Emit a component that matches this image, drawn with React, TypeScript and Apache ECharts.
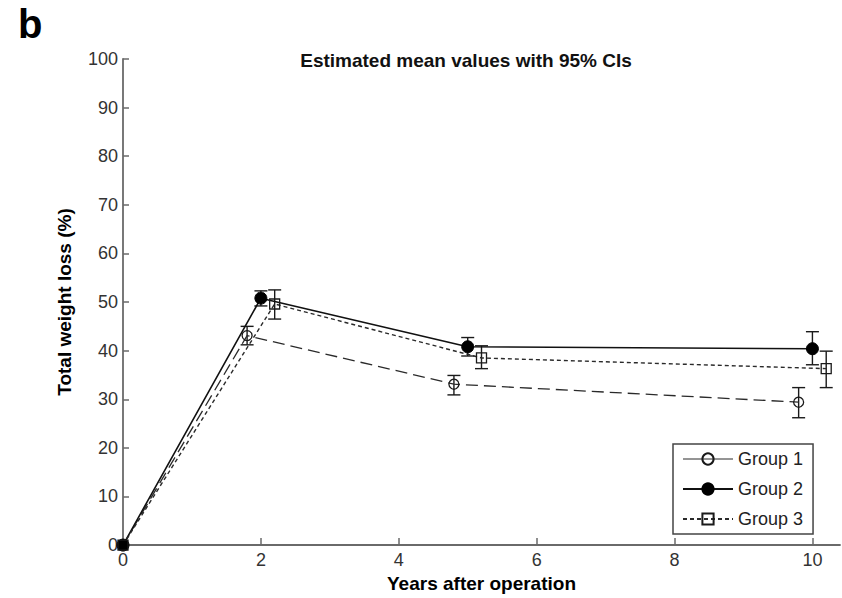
import React, { useEffect, useRef } from "react";
import * as echarts from "echarts";

const FONT = "'Liberation Sans', Arial, Helvetica, sans-serif";

// Tick values
const xTicks = [0, 2, 4, 6, 8, 10];

// Years after operation (slightly offset per group as in the reference)
const years1 = [0, 1.8, 4.8, 9.8];
const years2 = [0, 2, 5, 10];
const years3 = [0, 2.2, 5.2, 10.2];

// Estimated means (%)
const group1Mean = [0, 43.1, 33.1, 29.4];
const group2Mean = [0, 50.8, 40.8, 40.4];
const group3Mean = [0, 49.6, 38.5, 36.3];

// 95% CI bounds (%)
const group1Low = [0, 41.2, 30.9, 26.2];
const group1High = [0, 45.0, 34.9, 32.4];
const group2Low = [0, 49.2, 38.9, 37.1];
const group2High = [0, 52.3, 42.7, 43.9];
const group3Low = [0, 46.5, 36.3, 32.4];
const group3High = [0, 52.5, 41.0, 39.9];

const groupNames = ["Group 1", "Group 2", "Group 3"];

function pairs(xs: number[], ys: number[]) {
  return xs.map((x, i) => [x, ys[i]]);
}
function triples(xs: number[], lo: number[], hi: number[]) {
  return xs.map((x, i) => [x, lo[i], hi[i]]);
}

function errorRender(params: any, api: any) {
  const x = api.value(0);
  const lo = api.value(1);
  const hi = api.value(2);
  if (hi === lo) return null;
  const p1 = api.coord([x, lo]);
  const p2 = api.coord([x, hi]);
  const w = 6.5;
  const style = { stroke: "#1a1a1a", lineWidth: 1.4 };
  return {
    type: "group",
    children: [
      { type: "line", shape: { x1: p1[0], y1: p1[1], x2: p2[0], y2: p2[1] }, style },
      { type: "line", shape: { x1: p1[0] - w, y1: p1[1], x2: p1[0] + w, y2: p1[1] }, style },
      { type: "line", shape: { x1: p2[0] - w, y1: p2[1], x2: p2[0] + w, y2: p2[1] }, style },
    ],
  };
}

export default function App() {
  const ref = useRef<HTMLDivElement>(null);

  useEffect(() => {
    if (!ref.current) return;
    const chart = echarts.init(ref.current, null, { renderer: "svg" });

    const axisColor = "#6a6a6a";

    // the overlapping markers at the origin appear as a filled square
    const group3Data: any[] = pairs(years3, group3Mean).map((p, i) =>
      i === 0 ? { value: p, itemStyle: { color: "#000" } } : p
    );

    const option: any = {
      animation: false,
      backgroundColor: "#ffffff",
      textStyle: { fontFamily: FONT },
      grid: { left: 123, top: 59, width: 717, height: 488 },
      graphic: [
        {
          type: "text",
          left: 18,
          top: 4,
          style: { text: "b", font: `bold 40px ${FONT}`, fill: "#000" },
        },
        {
          type: "text",
          x: 466,
          y: 60,
          style: {
            text: "Estimated mean values with 95% CIs",
            font: `bold 19px ${FONT}`,
            fill: "#111",
            textAlign: "center",
            textVerticalAlign: "middle",
          },
        },
      ],
      xAxis: {
        type: "value",
        min: 0,
        max: 10.4,
        interval: 2,
        name: "Years after operation",
        nameLocation: "middle",
        nameGap: 26,
        nameTextStyle: { fontFamily: FONT, fontSize: 19, fontWeight: "bold", color: "#000" },
        axisLine: { show: true, lineStyle: { color: axisColor, width: 1.8 } },
        axisTick: {
          show: true,
          inside: true,
          length: 7,
          customValues: xTicks,
          lineStyle: { color: axisColor, width: 1.5 },
        },
        axisLabel: {
          customValues: xTicks,
          fontFamily: FONT,
          fontSize: 18,
          color: "#333",
          margin: 6,
        },
        splitLine: { show: false },
      },
      yAxis: {
        type: "value",
        min: 0,
        max: 100,
        interval: 10,
        name: "Total weight loss (%)",
        nameLocation: "middle",
        nameGap: 49,
        nameTextStyle: { fontFamily: FONT, fontSize: 19, fontWeight: "bold", color: "#000" },
        axisLine: { show: true, lineStyle: { color: axisColor, width: 1.8 } },
        axisTick: { show: true, inside: true, length: 6, lineStyle: { color: axisColor, width: 1.5 } },
        axisLabel: { fontFamily: FONT, fontSize: 18, color: "#333", margin: 5 },
        splitLine: { show: false },
      },
      legend: {
        orient: "vertical",
        left: 673,
        top: 444,
        itemWidth: 50,
        itemHeight: 14,
        itemGap: 12,
        padding: [6, 10, 6, 9],
        borderColor: "#444",
        borderWidth: 1.5,
        backgroundColor: "#fff",
        textStyle: { fontFamily: FONT, fontSize: 18, color: "#222" },
        data: [
          { name: groupNames[0], lineStyle: { type: "solid", width: 1 } },
          { name: groupNames[1] },
          { name: groupNames[2], itemStyle: { color: "rgba(255,255,255,0)" } },
        ],
      },
      series: [
        {
          name: "ci1",
          type: "custom",
          renderItem: errorRender,
          encode: { x: 0, y: [1, 2] },
          data: triples(years1, group1Low, group1High),
          z: 3,
          clip: false,
        },
        {
          name: "ci2",
          type: "custom",
          renderItem: errorRender,
          encode: { x: 0, y: [1, 2] },
          data: triples(years2, group2Low, group2High),
          z: 3,
          clip: false,
        },
        {
          name: "ci3",
          type: "custom",
          renderItem: errorRender,
          encode: { x: 0, y: [1, 2] },
          data: triples(years3, group3Low, group3High),
          z: 3,
          clip: false,
        },
        {
          name: groupNames[0],
          type: "line",
          data: pairs(years1, group1Mean),
          symbol: "circle",
          symbolSize: 10,
          showAllSymbol: true,
          lineStyle: { color: "#2a2a2a", width: 1.3, type: [12, 6] },
          itemStyle: { color: "rgba(255,255,255,0)", borderColor: "#1a1a1a", borderWidth: 1.3 },
          z: 4,
          clip: false,
        },
        {
          name: groupNames[1],
          type: "line",
          data: pairs(years2, group2Mean),
          symbol: "circle",
          symbolSize: 12,
          showAllSymbol: true,
          lineStyle: { color: "#111", width: 1.6, type: "solid" },
          itemStyle: { color: "#000", borderColor: "#000", borderWidth: 1 },
          z: 5,
          clip: false,
        },
        {
          name: groupNames[2],
          type: "line",
          data: group3Data,
          symbol: "rect",
          symbolSize: 10,
          showAllSymbol: true,
          lineStyle: { color: "#2a2a2a", width: 1.4, type: [4, 3] },
          itemStyle: { color: "rgba(255,255,255,0)", borderColor: "#1a1a1a", borderWidth: 1.3 },
          z: 6,
          clip: false,
        },
      ],
    };

    chart.setOption(option);
    return () => chart.dispose();
  }, []);

  return (
    <div
      ref={ref}
      style={{ position: "fixed", left: 0, top: 0, width: 842, height: 598, background: "#fff" }}
    />
  );
}
